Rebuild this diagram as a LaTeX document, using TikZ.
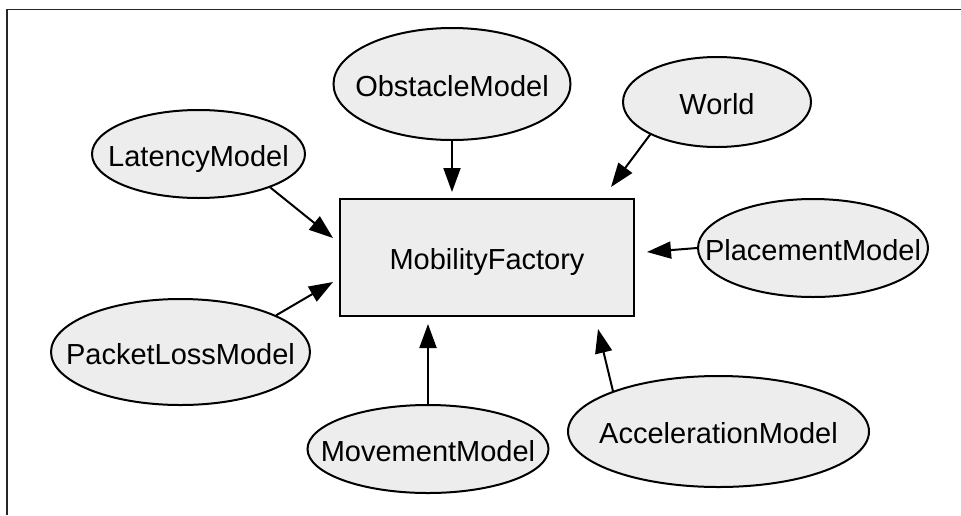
\documentclass[tikz,border=0pt]{standalone}
\usepackage{fontspec}
\setmainfont{Liberation Sans}
\usetikzlibrary{arrows.meta,shapes.geometric}
\definecolor{nodefill}{RGB}{237,237,237}
\begin{document}
\begin{tikzpicture}[x=1pt,y=-1pt,
  labelfont/.style={font=\fontsize{29}{34}\selectfont},
  model/.style={ellipse,draw=black,line width=2pt,fill=nodefill,inner sep=0pt,
    text height=24pt,text depth=0pt,labelfont},
  factory/.style={rectangle,draw=black,line width=2pt,fill=nodefill,inner sep=0pt,
    minimum width=294pt,minimum height=117pt,text height=24pt,text depth=0pt,labelfont},
  dep/.style={line width=2pt,-{Triangle[length=24pt,width=17pt]}}]
\useasboundingbox (0,0) rectangle (961,515);
\draw[line width=1.5pt,black!85] (961,9.5) -- (7,9.5) -- (7,515);

\node[factory] (fac) at (487,257.5) {\makebox[0pt]{MobilityFactory}};

\node[model,minimum width=213pt,minimum height=88pt] (lat) at (198.5,154) {\makebox[0pt]{LatencyModel}};
\node[model,minimum width=237pt,minimum height=112pt] (obst) at (452,84) {\makebox[0pt]{ObstacleModel}};
\node[model,minimum width=188pt,minimum height=90pt] (world) at (717,102) {\makebox[0pt]{World}};
\node[model,minimum width=230pt,minimum height=98pt] (place) at (813,248) {\makebox[0pt]{PlacementModel}};
\node[model,minimum width=259pt,minimum height=106pt] (pkt) at (180.5,352) {\makebox[0pt]{PacketLossModel}};
\node[model,minimum width=241pt,minimum height=88pt] (move) at (428,449) {\makebox[0pt]{MovementModel}};
\node[model,minimum width=301pt,minimum height=111pt] (acc) at (718.5,431.5) {\makebox[0pt]{AccelerationModel}};

\coordinate (tobst) at (452,192);
\coordinate (tworld) at (611,187);
\coordinate (tlat) at (333,238);
\coordinate (tpkt) at (333,282);
\coordinate (tmove) at (428,324);
\coordinate (tacc) at (598,329);
\coordinate (tplace) at (647,252);

\draw[dep] (obst.south) -- (tobst);
\draw[dep] (world.206) -- (tworld);
\draw[dep] (lat.335) -- (tlat);
\draw[dep] (pkt.21) -- (tpkt);
\draw[dep] (move.north) -- (tmove);
\draw[dep] (acc.159) -- (tacc);
\draw[dep] (place.west) -- (tplace);
\end{tikzpicture}
\end{document}
